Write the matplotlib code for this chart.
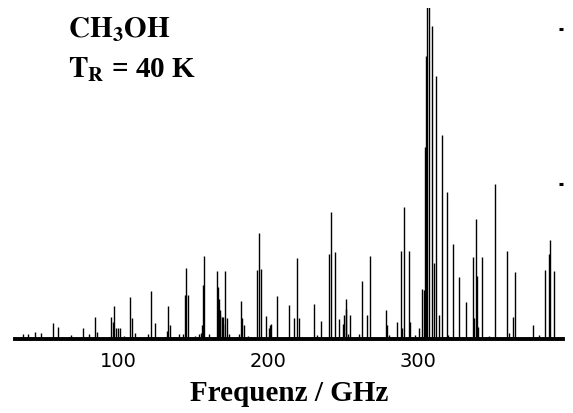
import numpy as np
import matplotlib
matplotlib.use("Agg")
import matplotlib.pyplot as plt

plt.rcParams['mathtext.fontset'] = 'stix'

# line positions (GHz) and relative intensities
freq = [36.5, 39.8, 44.5, 48.5, 56.5, 60.2, 68.5, 76.5, 80.5, 84.5, 85.8,
        95.3, 96.5, 97.1, 98.7, 100.0, 101.0, 104.0, 107.8, 109.3, 111.3,
        120.0, 122.0, 124.5, 132.5, 133.5, 134.7, 140.7, 143.5, 144.7, 145.1,
        146.7, 151.3, 154.0, 155.0, 155.8, 156.9, 157.3, 160.7, 165.8, 166.5,
        167.0, 167.7, 168.3, 169.0, 169.7, 170.3, 171.1, 172.7, 174.0, 180.9,
        181.8, 182.7, 184.0, 186.9, 192.9, 194.0, 195.5, 198.7, 200.7, 201.3,
        201.8, 206.2, 213.8, 217.1, 219.1, 220.7, 230.5, 232.5, 235.1, 240.7,
        242.0, 244.7, 247.3, 250.0, 251.0, 251.7, 252.3, 253.3, 254.5, 260.7,
        262.9, 266.2, 268.0, 278.7, 279.5, 280.7, 282.7, 285.8, 288.7, 289.3,
        291.0, 294.2, 294.7, 298.2, 300.9, 302.9, 303.7, 304.5, 305.1, 306.0,
        307.5, 309.5, 310.7, 312.2, 314.0, 315.8, 319.3, 320.2, 323.1, 327.5,
        331.8, 336.5, 337.5, 338.9, 339.5, 340.2, 342.9, 347.1, 351.5, 359.5,
        361.0, 363.1, 364.9, 376.5, 380.9, 384.7, 387.1, 387.8, 390.7, 395.5]
inten = [0.03, 0.03, 0.045, 0.04, 0.10, 0.077, 0.026, 0.071, 0.03, 0.142, 0.045,
         0.142, 0.11, 0.213, 0.071, 0.071, 0.071, 0.02, 0.271, 0.135, 0.039,
         0.03, 0.31, 0.103, 0.052, 0.213, 0.09, 0.03, 0.03, 0.284, 0.458,
         0.284, 0.02, 0.03, 0.039, 0.09, 0.348, 0.535, 0.03, 0.439, 0.335,
         0.258, 0.187, 0.155, 0.142, 0.142, 0.097, 0.439, 0.135, 0.03, 0.03,
         0.245, 0.135, 0.09, 0.02, 0.445, 0.684, 0.452, 0.148, 0.071, 0.09,
         0.097, 0.277, 0.219, 0.135, 0.523, 0.135, 0.226, 0.026, 0.116, 0.548,
         0.819, 0.561, 0.129, 0.097, 0.155, 0.258, 0.194, 0.03, 0.155, 0.03,
         0.374, 0.155, 0.535, 0.187, 0.09, 0.026, 0.013, 0.11, 0.568, 0.071,
         0.852, 0.568, 0.11, 0.026, 0.071, 0.323, 0.316, 1.239, 1.826, 2.3,
         2.25, 2.019, 0.49, 1.697, 0.155, 1.316, 0.948, 0.026, 0.613, 0.40,
         0.239, 0.529, 0.135, 0.774, 0.406, 0.077, 0.529, 0.02, 0.999, 0.568,
         0.039, 0.142, 0.432, 0.09, 0.026, 0.445, 0.548, 0.639, 0.439, 0.013]

xticks = [100, 200, 300]
yticks = [1, 2]

fig = plt.figure(figsize=(5.73, 4.14), dpi=100)
ax = fig.add_axes([15/573, (414-340)/414, 548/573, 331/414])

ax.vlines(freq, 0, inten, color='black', lw=1.0)
ax.set_xlim(31.3, 396.7)
ax.set_ylim(0, 2.135)

for s in ['left', 'top', 'right']:
    ax.spines[s].set_visible(False)
ax.spines['bottom'].set_linewidth(2.8)

ax.set_xticks(xticks)
ax.set_xticklabels([str(t) for t in xticks])
ax.tick_params(axis='x', length=0, pad=9, labelsize=14)
ax.yaxis.tick_right()
ax.set_yticks(yticks)
ax.set_yticklabels([])
ax.tick_params(axis='y', direction='in', length=3, width=2.2)

ax.set_xlabel('Frequenz / GHz', fontfamily='Liberation Serif', fontweight='bold',
              fontsize=21, labelpad=6)

fig.text(68/573, 1 - 38/414, r'$\mathbf{CH_3OH}$', fontsize=21, ha='left', va='baseline')
fig.text(68/573, 1 - 78/414, r'$\mathbf{T_R}$' + ' = 40 K', fontsize=21, ha='left',
         va='baseline', fontfamily='Liberation Serif', fontweight='bold')

fig.savefig('out.png', dpi=100)
